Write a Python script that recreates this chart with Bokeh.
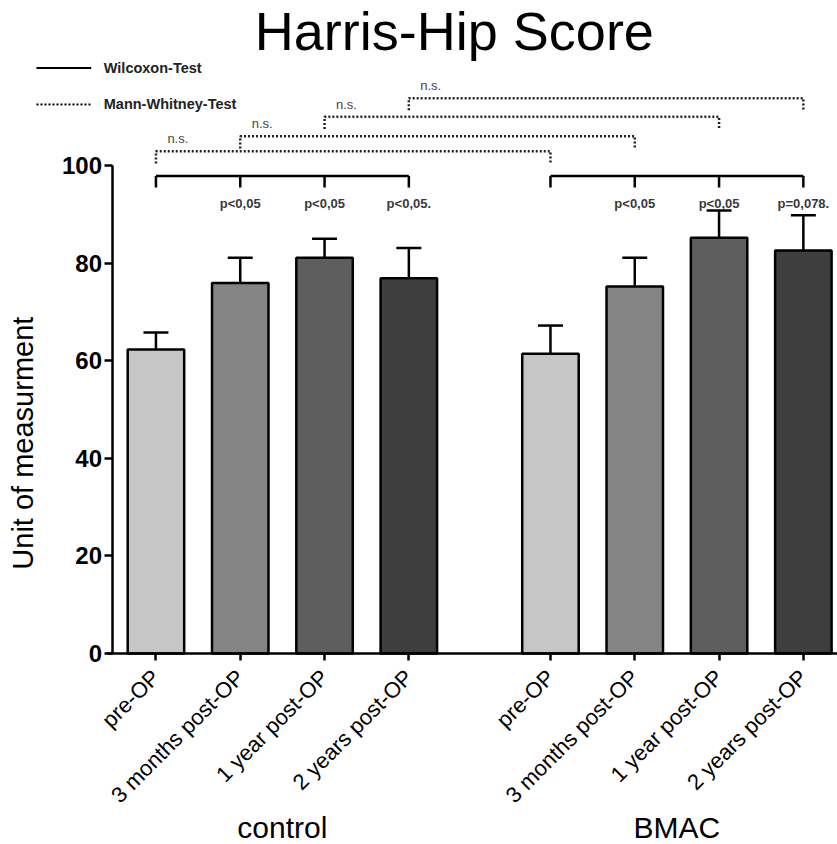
import math
from bokeh.plotting import figure
from bokeh.models import FixedTicker, Range1d, ColumnDataSource, Label
from bokeh.embed import file_html
from bokeh.resources import INLINE
from bokeh.core.properties import value

# ---------------- data ----------------
groups = ["control", "BMAC"]
timepoints = ["pre-OP", "3 months post-OP", "1 year post-OP", "2 years post-OP"]
control_mean = [62.3, 75.9, 81.1, 76.9]
control_err = [3.5, 5.2, 3.9, 6.2]
bmac_mean = [61.4, 75.2, 85.2, 82.6]
bmac_err = [5.8, 5.9, 5.6, 7.2]
control_p = ["", "p<0,05", "p<0,05", "p<0,05."]
bmac_p = ["", "p<0,05", "p<0,05", "p=0,078."]
mw_labels = ["n.s.", "n.s.", "n.s.", "n.s."]
bar_colors = ["#c6c6c6", "#848484", "#5e5e5e", "#3e3e3e"]
y_ticks = [0, 20, 40, 60, 80, 100]

# ---------------- layout constants ----------------
W, H = 837, 844
GROUP_GAP = 0.68
BAR_W = 0.67
CAP = 0.148
WIL_Y, WIL_DROP = 97.85, 2.35
MW_Y = [102.9, 106.0, 110.0, 113.8]
MW_DROP = 2.5
P_Y = 92.2
FONT = "Liberation Sans"

ctrl_x = [float(i) for i in range(len(timepoints))]
bmac_x = [len(timepoints) + GROUP_GAP + i for i in range(len(timepoints))]
all_x = ctrl_x + bmac_x

p = figure(width=W, height=H, output_backend="svg", toolbar_location=None,
           x_range=Range1d(-1.844, 8.085), y_range=Range1d(-39.14, 133.81),
           min_border=0, background_fill_color="white", border_fill_color="white")
p.outline_line_color = None
p.xgrid.visible = False
p.ygrid.visible = False

# ---------------- axes ----------------
ya = p.yaxis[0]
ya.fixed_location = -0.521
ya.bounds = (0, 100)
ya.ticker = FixedTicker(ticks=y_ticks)
ya.minor_tick_line_color = None
ya.major_tick_in = 0
ya.major_tick_out = 8
ya.axis_line_width = 2.5
ya.major_tick_line_width = 2.5
ya.major_label_text_font = FONT
ya.major_label_text_font_style = "bold"
ya.major_label_text_font_size = "24px"
ya.major_label_text_color = "black"
ya.major_label_standoff = 2

xa = p.xaxis[0]
xa.fixed_location = 0
xa.bounds = (-0.57, 8.2)
xa.ticker = FixedTicker(ticks=all_x)
xa.major_label_overrides = {x: lab for x, lab in zip(all_x, timepoints + timepoints)}
xa.minor_tick_line_color = None
xa.major_tick_in = 0
xa.major_tick_out = 7
xa.axis_line_width = 2.5
xa.major_tick_line_width = 2.5
xa.major_label_orientation = math.pi / 4
xa.major_label_text_font = FONT
xa.major_label_text_font_size = "22px"
xa.major_label_text_color = "black"
xa.major_label_standoff = 13

# ---------------- bars ----------------
src = ColumnDataSource(dict(
    x=all_x,
    top=control_mean + bmac_mean,
    err=[m + e for m, e in zip(control_mean + bmac_mean, control_err + bmac_err)],
    color=bar_colors + bar_colors,
    x0=[x - CAP for x in all_x],
    x1=[x + CAP for x in all_x],
))
p.segment(x0="x", y0="top", x1="x", y1="err", source=src, line_color="black", line_width=2.5)
p.segment(x0="x0", y0="err", x1="x1", y1="err", source=src, line_color="black", line_width=2.5)
p.vbar(x="x", top="top", bottom=0, width=BAR_W, source=src, fill_color="color",
       line_color="black", line_width=2.5)

# ---------------- Wilcoxon brackets ----------------
for xs, labs in ((ctrl_x, control_p), (bmac_x, bmac_p)):
    p.segment(x0=[xs[0]], y0=[WIL_Y], x1=[xs[-1]], y1=[WIL_Y], line_color="black", line_width=2.5)
    p.segment(x0=xs, y0=[WIL_Y] * len(xs), x1=xs, y1=[WIL_Y - WIL_DROP] * len(xs),
              line_color="black", line_width=2.5)
    p.text(x=xs, y=[P_Y] * len(xs), text=labs, text_align="center", text_baseline="middle",
           text_font=value(FONT), text_font_style="bold", text_font_size="13px",
           text_color="#3a3a3a")

# ---------------- Mann-Whitney brackets ----------------
mw_xs = [[c, c, b, b] for c, b in zip(ctrl_x, bmac_x)]
mw_ys = [[y - MW_DROP, y, y, y - MW_DROP] for y in MW_Y]
p.multi_line(xs=mw_xs, ys=mw_ys, line_color="#222222", line_width=2.5, line_dash="2 2")
p.text(x=[c + 0.26 for c in ctrl_x], y=[y + 2.56 for y in MW_Y], text=mw_labels,
       text_align="center", text_baseline="middle", text_font=value(FONT),
       text_font_size="13px", text_color="#444444")

# ---------------- legend ----------------
LEG_X0, LEG_X1, LEG_TX = -1.417, -0.768, -0.619
LEG_Y = [120.0, 112.5]
p.segment(x0=[LEG_X0], y0=[LEG_Y[0]], x1=[LEG_X1], y1=[LEG_Y[0]], line_color="black", line_width=2)
p.segment(x0=[LEG_X0], y0=[LEG_Y[1]], x1=[LEG_X1], y1=[LEG_Y[1]], line_color="black",
          line_width=2, line_dash="2 2")
for yy, txt in zip(LEG_Y, ["Wilcoxon-Test", "Mann-Whitney-Test"]):
    p.add_layout(Label(x=LEG_TX, y=yy, text=txt, text_align="left", text_baseline="middle",
                       text_font=FONT, text_font_style="bold", text_font_size="14.5px",
                       text_color="#222222"))

# ---------------- titles / labels ----------------
p.add_layout(Label(x=3.54, y=127.5, text="Harris-Hip Score", text_align="center",
                   text_baseline="middle", text_font=FONT, text_font_size="54px",
                   text_color="black"))
p.add_layout(Label(x=-1.576, y=43.1, text="Unit of measurment", angle=math.pi / 2,
                   text_align="center", text_baseline="middle", text_font=FONT,
                   text_font_size="29px", text_color="black"))
for xs, g in ((ctrl_x, groups[0]), (bmac_x, groups[1])):
    p.add_layout(Label(x=sum(xs) / len(xs), y=-35.6, text=g, text_align="center",
                       text_baseline="middle", text_font=FONT, text_font_size="30px",
                       text_color="black"))

open("out.html", "w").write(file_html(p, INLINE))
